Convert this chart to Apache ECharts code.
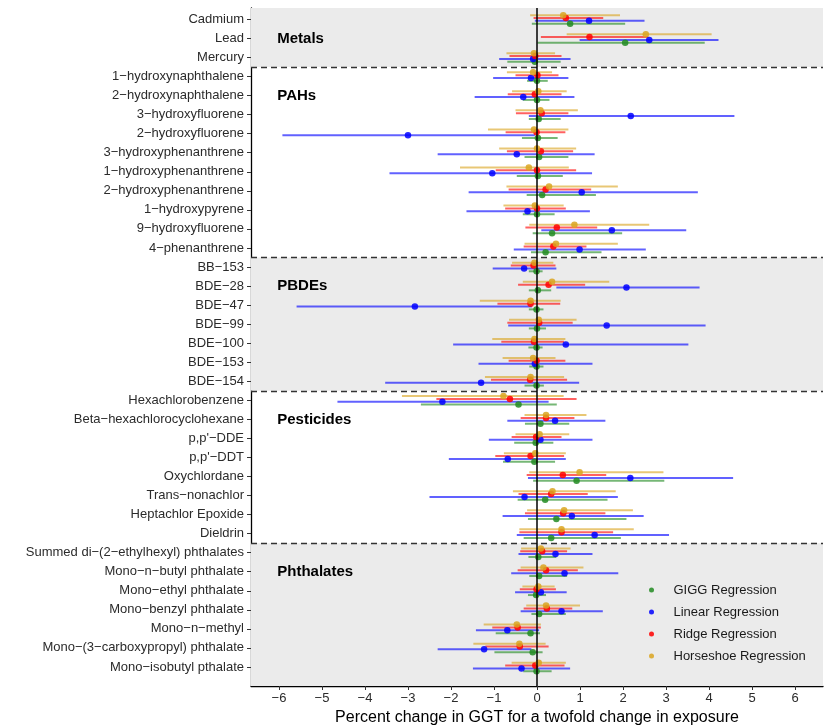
<!DOCTYPE html>
<html>
<head>
<meta charset="utf-8">
<title>Percent change in GGT</title>
<script src="https://cdn.jsdelivr.net/npm/echarts@6/dist/echarts.min.js"></script>
<style>
  html, body { margin: 0; padding: 0; background: #fff; }
  #chart { width: 830px; height: 727px; }
</style>
</head>
<body>
<div id="chart"></div>
<script>
// exposures, top to bottom
const exposures = [
  'Cadmium', 'Lead', 'Mercury',
  '1\u2212hydroxynaphthalene', '2\u2212hydroxynaphthalene', '3\u2212hydroxyfluorene',
  '2\u2212hydroxyfluorene', '3\u2212hydroxyphenanthrene', '1\u2212hydroxyphenanthrene',
  '2\u2212hydroxyphenanthrene', '1\u2212hydroxypyrene', '9\u2212hydroxyfluorene', '4\u2212phenanthrene',
  'BB\u2212153', 'BDE\u221228', 'BDE\u221247', 'BDE\u221299', 'BDE\u2212100', 'BDE\u2212153', 'BDE\u2212154',
  'Hexachlorobenzene', 'Beta\u2212hexachlorocyclohexane', "p,p'\u2212DDE", "p,p'\u2212DDT",
  'Oxychlordane', 'Trans\u2212nonachlor', 'Heptachlor Epoxide', 'Dieldrin',
  'Summed di\u2212(2\u2212ethylhexyl) phthalates', 'Mono\u2212n\u2212butyl phthalate',
  'Mono\u2212ethyl phthalate', 'Mono\u2212benzyl phthalate', 'Mono\u2212n\u2212methyl',
  'Mono\u2212(3\u2212carboxypropyl) phthalate', 'Mono\u2212isobutyl pthalate'
];

const groupNames = ['Metals', 'PAHs', 'PBDEs', 'Pesticides', 'Phthalates'];
const groupStart = [0, 3, 13, 20, 28];
const groupEnd = [2, 12, 19, 27, 34];
const groupShaded = [true, false, true, false, true];

const xTicks = [-6, -5, -4, -3, -2, -1, 0, 1, 2, 3, 4, 5, 6];

// GIGG Regression
const giggEst = [0.77, 2.05, -0.05, 0.00, 0.00, 0.04, 0.02, 0.05, 0.02, 0.12, 0.00, 0.35, 0.20,
  -0.01, 0.02, -0.01, 0.00, -0.01, -0.01, -0.01,
  -0.43, 0.08, -0.03, -0.06, 0.92, 0.19, 0.45, 0.33,
  0.03, 0.05, -0.02, 0.05, -0.15, -0.10, -0.01];
const giggLo = [-0.12, 0.01, -0.69, -0.23, -0.33, -0.19, -0.35, -0.29, -0.47, -0.24, -0.33, -0.10, -0.14,
  -0.19, -0.19, -0.19, -0.19, -0.20, -0.18, -0.29,
  -2.70, -0.28, -0.53, -0.79, -0.09, -0.45, -0.21, -0.31,
  -0.20, -0.18, -0.21, -0.13, -0.96, -0.99, -0.32];
const giggHi = [2.05, 3.90, 0.55, 0.25, 0.29, 0.55, 0.48, 0.73, 0.60, 1.37, 0.41, 1.98, 1.50,
  0.13, 0.33, 0.15, 0.21, 0.13, 0.15, 0.16,
  0.46, 0.75, 0.38, 0.42, 2.96, 1.64, 2.08, 1.95,
  0.45, 0.70, 0.21, 0.67, 0.07, 0.13, 0.34];

// Linear Regression
const linearEst = [1.21, 2.61, -0.09, -0.14, -0.32, 2.18, -3.00, -0.47, -1.04, 1.04, -0.22, 1.74, 0.99,
  -0.30, 2.08, -2.84, 1.62, 0.67, -0.05, -1.30,
  -2.20, 0.42, 0.08, -0.68, 2.17, -0.29, 0.81, 1.34,
  0.43, 0.64, 0.09, 0.57, -0.69, -1.23, -0.36];
const linearLo = [-0.05, 0.99, -0.88, -1.02, -1.45, -0.19, -5.92, -2.31, -3.43, -1.59, -1.64, 0.10, -0.54,
  -1.03, 0.45, -5.59, -0.67, -1.95, -1.36, -3.53,
  -4.64, -0.69, -1.12, -2.05, -0.21, -2.50, -0.80, -0.47,
  -0.43, -0.60, -0.51, -0.38, -1.42, -2.31, -1.49];
const linearHi = [2.50, 4.22, 0.78, 0.73, 0.87, 4.59, -0.05, 1.34, 1.28, 3.74, 1.23, 3.47, 2.53,
  0.45, 3.78, -0.12, 3.92, 3.52, 1.29, 0.98,
  0.27, 1.59, 1.29, 0.67, 4.56, 1.88, 2.48, 3.07,
  1.29, 1.89, 0.69, 1.53, 0.05, -0.13, 0.77];

// Ridge Regression
const ridgeEst = [0.67, 1.22, -0.04, 0.01, -0.05, 0.11, -0.01, 0.09, 0.00, 0.20, 0.00, 0.46, 0.38,
  -0.08, 0.27, -0.15, 0.05, -0.07, -0.01, -0.16,
  -0.63, 0.21, -0.02, -0.15, 0.60, 0.33, 0.61, 0.57,
  0.12, 0.21, -0.01, 0.23, -0.45, -0.40, -0.04];
const ridgeLo = [-0.08, 0.09, -0.64, -0.50, -0.68, -0.49, -0.73, -0.70, -0.96, -0.66, -0.74, -0.27, -0.31,
  -0.61, -0.44, -0.92, -0.69, -0.83, -0.66, -1.07,
  -2.34, -0.38, -0.59, -0.97, -0.24, -0.43, -0.28, -0.41,
  -0.39, -0.45, -0.40, -0.31, -1.04, -1.20, -0.74];
const ridgeHi = [1.54, 2.59, 0.57, 0.50, 0.57, 0.73, 0.66, 0.84, 0.91, 1.26, 0.67, 1.40, 1.15,
  0.43, 1.12, 0.54, 0.83, 0.63, 0.66, 0.70,
  0.92, 0.87, 0.57, 0.63, 1.61, 1.18, 1.59, 1.77,
  0.70, 0.95, 0.44, 0.82, 0.09, 0.27, 0.64];

// Horseshoe Regression
const horseshoeEst = [0.61, 2.53, -0.07, -0.09, 0.03, 0.08, -0.07, 0.00, -0.19, 0.28, -0.05, 0.87, 0.44,
  -0.06, 0.35, -0.15, 0.04, -0.06, -0.09, -0.15,
  -0.78, 0.21, 0.06, -0.04, 0.99, 0.36, 0.63, 0.57,
  0.09, 0.15, 0.03, 0.21, -0.47, -0.41, 0.04];
const horseshoeLo = [-0.16, 0.69, -0.71, -0.70, -0.58, -0.50, -1.14, -0.88, -1.79, -0.71, -0.78, -0.18, -0.29,
  -0.58, -0.33, -1.33, -0.65, -1.04, -0.80, -1.21,
  -3.14, -0.29, -0.50, -0.77, -0.18, -0.56, -0.23, -0.41,
  -0.37, -0.38, -0.34, -0.25, -1.24, -1.48, -0.59];
const horseshoeHi = [1.93, 4.06, 0.42, 0.35, 0.69, 0.95, 0.73, 0.91, 0.74, 1.88, 0.62, 2.61, 1.88,
  0.38, 1.68, 0.55, 0.92, 0.66, 0.43, 0.63,
  0.62, 1.15, 0.75, 0.67, 2.94, 1.83, 2.23, 2.25,
  0.78, 1.08, 0.41, 1.00, 0.09, 0.20, 0.67];

const FONT = '"Liberation Sans", Arial, Helvetica, sans-serif';
const X_MIN = -6.65, X_MAX = 6.65;
const Y_MIN = -0.6, Y_MAX = 35;

const methods = [
  { name: 'GIGG Regression', color: '#228B22', est: giggEst, lo: giggLo, hi: giggHi, offset: 0.225 },
  { name: 'Linear Regression', color: '#0000FF', est: linearEst, lo: linearLo, hi: linearHi, offset: 0.075 },
  { name: 'Ridge Regression', color: '#FF0000', est: ridgeEst, lo: ridgeLo, hi: ridgeHi, offset: -0.075 },
  { name: 'Horseshoe Regression', color: '#DAA520', est: horseshoeEst, lo: horseshoeLo, hi: horseshoeHi, offset: -0.225 }
];

function ciSeries(m) {
  return {
    name: m.name,
    type: 'custom',
    z: 3,
    silent: true,
    data: m.lo.map((lo, i) => [lo, m.hi[i], i + m.offset]),
    encode: { x: [0, 1], y: 2 },
    renderItem: function (params, api) {
      const a = api.coord([api.value(0), api.value(2)]);
      const b = api.coord([api.value(1), api.value(2)]);
      return {
        type: 'line',
        shape: { x1: a[0], y1: a[1], x2: b[0], y2: b[1] },
        style: { stroke: m.color, lineWidth: 2, opacity: 0.62 }
      };
    }
  };
}

function pointSeries(m) {
  return {
    name: m.name,
    type: 'scatter',
    z: 4,
    silent: true,
    symbol: 'circle',
    symbolSize: 6.5,
    itemStyle: { color: m.color, opacity: 0.85 },
    data: m.est.map((v, i) => [v, i + m.offset])
  };
}

// shaded bands, group dividers and the zero line
const bands = [];
groupNames.forEach((g, i) => {
  if (!groupShaded[i]) return;
  const lower = groupStart[i] === 0 ? Y_MIN : groupStart[i] - 0.5;
  const upper = groupEnd[i] === exposures.length - 1 ? Y_MAX : groupEnd[i] + 0.5;
  bands.push([{ yAxis: lower }, { yAxis: upper }]);
});
const dividers = groupEnd.slice(0, -1).map(e => ({
  yAxis: e + 0.5,
  lineStyle: { color: '#333', width: 1.3, type: [6, 4] }
}));
dividers.push({ xAxis: 0, lineStyle: { color: '#000', width: 1.5, type: 'solid' } });

const groupSeries = {
  type: 'custom',
  z: 1,
  silent: true,
  data: groupStart.map(s => [-6.04, s + 1]),
  encode: { x: 0, y: 1 },
  renderItem: function (params, api) {
    const p = api.coord([api.value(0), api.value(1)]);
    return {
      type: 'text',
      x: p[0],
      y: p[1],
      style: {
        text: groupNames[params.dataIndex],
        fill: '#000',
        font: 'bold 15px ' + FONT,
        align: 'left',
        verticalAlign: 'middle'
      }
    };
  },
  markArea: {
    silent: true,
    itemStyle: { color: '#EBEBEB' },
    data: bands
  },
  markLine: {
    silent: true,
    symbol: ['none', 'none'],
    label: { show: false },
    data: dividers
  }
};

const series = [groupSeries];
methods.forEach(m => series.push(pointSeries(m)));
methods.forEach(m => series.push(ciSeries(m)));

const chart = echarts.init(document.getElementById('chart'));
chart.setOption({
  animation: false,
  backgroundColor: '#fff',
  grid: { left: 251, right: 7, top: 8, bottom: 41, outerBoundsMode: 'none', containLabel: false },
  legend: {
    orient: 'vertical',
    left: 644,
    top: 577,
    itemWidth: 34,
    itemHeight: 5,
    itemGap: 6,
    selectedMode: false,
    textStyle: { fontFamily: FONT, fontSize: 13, color: '#1a1a1a', lineHeight: 16 },
    data: methods.map(m => ({ name: m.name, icon: 'circle', itemStyle: { color: m.color } }))
  },
  xAxis: {
    type: 'value',
    min: X_MIN,
    max: X_MAX,
    name: 'Percent change in GGT for a twofold change in exposure',
    nameLocation: 'middle',
    nameGap: 18,
    nameTextStyle: { fontFamily: FONT, fontSize: 16, color: '#000' },
    axisLine: { show: true, onZero: false, lineStyle: { color: '#000', width: 1.3 } },
    axisTick: { show: true, length: 4, customValues: xTicks, lineStyle: { color: '#333' } },
    axisLabel: {
      customValues: xTicks,
      margin: 6,
      fontFamily: FONT,
      fontSize: 13,
      color: '#2b2b2b',
      formatter: v => String(v).replace('-', '\u2212')
    },
    splitLine: { show: false }
  },
  yAxis: {
    type: 'value',
    inverse: true,
    min: Y_MIN,
    max: Y_MAX,
    axisLine: { show: true, onZero: false, lineStyle: { color: '#000', width: 1.3 } },
    axisTick: { show: true, length: 4, customValues: exposures.map((_, i) => i), lineStyle: { color: '#333' } },
    axisLabel: {
      customValues: exposures.map((_, i) => i),
      margin: 7,
      fontFamily: FONT,
      fontSize: 13,
      color: '#2b2b2b',
      formatter: v => exposures[Math.round(v)]
    },
    splitLine: { show: false }
  },
  series: series
});
</script>
</body>
</html>
